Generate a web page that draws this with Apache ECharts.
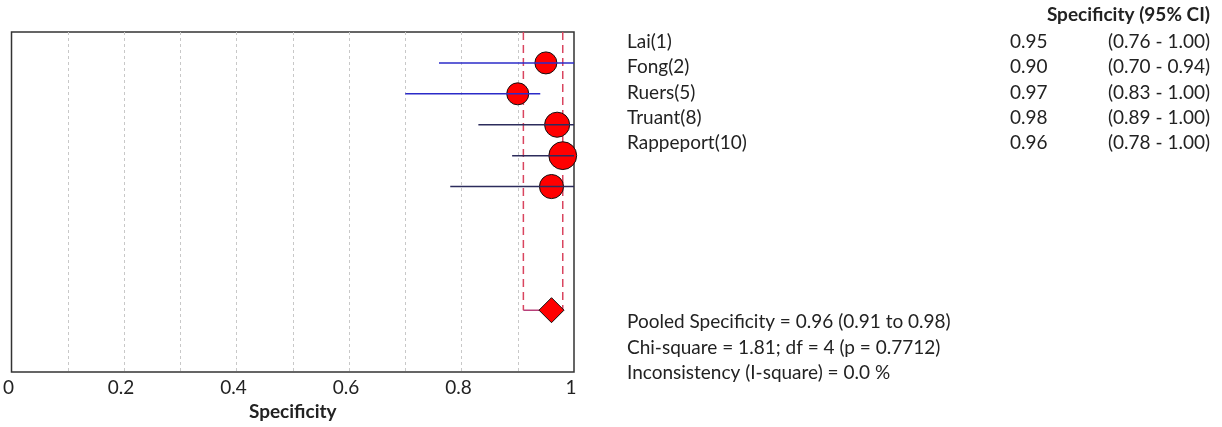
<!DOCTYPE html>
<html>
<head>
<meta charset="utf-8">
<script src="https://cdn.jsdelivr.net/npm/echarts@6/dist/echarts.min.js"></script>
<style>
  html, body { margin: 0; padding: 0; background: #fff; }
  #chart { width: 1222px; height: 427px; }
</style>
</head>
<body>
<div id="chart"></div>
<script>
// Study-level specificity estimates with 95% confidence intervals
const studies = ['Lai(1)', 'Fong(2)', 'Ruers(5)', 'Truant(8)', 'Rappeport(10)'];
const specificity = [0.95, 0.90, 0.97, 0.98, 0.96];
const ciLower = [0.76, 0.70, 0.83, 0.89, 0.78];
const ciUpper = [1.00, 0.94, 1.00, 1.00, 1.00];
// relative study weights (marker area)
const studyWeight = [1.0, 1.0, 1.3, 1.6, 1.2];

// Pooled random-effects estimate
const pooled = 0.96;
const pooledLower = 0.91;
const pooledUpper = 0.98;
const chiSquare = 1.81;
const degFree = 4;
const pValue = 0.7712;
const iSquare = 0.0;

const xTicks = [0, 0.2, 0.4, 0.6, 0.8, 1];

const FONT = 'Lato, "Open Sans", sans-serif';
const rowOf = i => i + 1;       // study rows counted from the top
const pooledRow = 9;
const lineColors = ['#2b2bc8', '#2b2bc8', '#2c2c5c', '#2c2c5c', '#2c2c5c'];

const chart = echarts.init(document.getElementById('chart'), null, { renderer: 'canvas' });

const studyPoints = specificity.map((v, i) => ({
  value: [v, rowOf(i)],
  symbolSize: 22 * Math.sqrt(studyWeight[i])
}));

const ciData = studies.map((s, i) => [ciLower[i], ciUpper[i], rowOf(i), i]);

// Right-hand table and summary statistics
const base = { fontFamily: FONT, fontSize: 19, fill: '#222', verticalAlign: 'middle' };
const txt = (x, y, text, extra) => ({
  type: 'text', x: x, y: y,
  style: Object.assign({}, base, { text: text }, extra || {})
});
const graphics = [];
graphics.push(txt(1210, 15, 'Specificity (95% CI)', { fontWeight: 'bold', align: 'right' }));
studies.forEach((s, i) => {
  const y = 42 + i * 25.2;
  graphics.push(txt(627, y, s));
  graphics.push(txt(1010, y, specificity[i].toFixed(2)));
  graphics.push(txt(1210, y, '(' + ciLower[i].toFixed(2) + ' - ' + ciUpper[i].toFixed(2) + ')', { align: 'right' }));
});
const stats = [
  'Pooled Specificity = ' + pooled.toFixed(2) + ' (' + pooledLower.toFixed(2) + ' to ' + pooledUpper.toFixed(2) + ')',
  'Chi-square = ' + chiSquare.toFixed(2) + '; df = ' + degFree + ' (p = ' + pValue.toFixed(4) + ')',
  'Inconsistency (I-square) = ' + iSquare.toFixed(1) + ' %'
];
stats.forEach((t, i) => graphics.push(txt(627, 322 + i * 25.5, t)));

chart.setOption({
  animation: false,
  backgroundColor: '#fff',
  grid: {
    left: 10, right: 648, top: 32, bottom: 55,
    show: true, borderColor: '#333', borderWidth: 1.5, backgroundColor: 'transparent'
  },
  xAxis: {
    type: 'value', min: 0, max: 1, interval: 0.1,
    name: 'Specificity', nameLocation: 'middle', nameGap: 30,
    nameTextStyle: { fontFamily: FONT, fontSize: 19, fontWeight: 'bold', color: '#222' },
    axisLine: { show: false }, axisTick: { show: false },
    axisLabel: {
      fontFamily: FONT, fontSize: 19, color: '#222', margin: 6, padding: [0, 6, 0, 0],
      formatter: v => {
        const t = xTicks.find(x => Math.abs(x - v) < 1e-6);
        return t === undefined ? '' : String(t);
      }
    },
    splitLine: {
      show: true, showMinLine: false, showMaxLine: false,
      lineStyle: { color: '#c8c8c8', type: [3, 3], width: 1 }
    }
  },
  yAxis: {
    type: 'value', min: 0, max: 11, inverse: true,
    show: false, splitLine: { show: false }
  },
  graphic: graphics,
  series: [
    {
      // pooled CI bounds, dashed guides down to the summary row
      type: 'line', z: 2, symbol: 'none', silent: true,
      data: [[pooledLower, 0], [pooledLower, pooledRow]],
      lineStyle: { color: '#d9455f', type: [8, 5], width: 1.5 }
    },
    {
      type: 'line', z: 2, symbol: 'none', silent: true,
      data: [[pooledUpper, 0], [pooledUpper, pooledRow]],
      lineStyle: { color: '#d9455f', type: [8, 5], width: 1.5 }
    },
    {
      type: 'line', z: 2, symbol: 'none', silent: true,
      data: [[pooledLower, pooledRow], [pooledUpper, pooledRow]],
      lineStyle: { color: '#b8407a', width: 1.5 }
    },
    {
      type: 'scatter', z: 3, symbol: 'circle',
      data: studyPoints,
      itemStyle: { color: '#ff0000', borderColor: '#111', borderWidth: 1, opacity: 1 }
    },
    {
      type: 'custom', z: 4, silent: true,
      data: ciData,
      encode: { x: [0, 1], y: 2 },
      renderItem: (params, api) => {
        const a = api.coord([api.value(0), api.value(2)]);
        const b = api.coord([api.value(1), api.value(2)]);
        return {
          type: 'line',
          shape: { x1: a[0], y1: a[1], x2: b[0], y2: b[1] },
          style: { stroke: lineColors[api.value(3)], lineWidth: 1.5 }
        };
      }
    },
    {
      type: 'scatter', z: 5, symbol: 'diamond', symbolSize: [25, 25],
      data: [[pooled, pooledRow]],
      itemStyle: { color: '#ff0000', borderColor: '#111', borderWidth: 1, opacity: 1 }
    }
  ]
});
</script>
</body>
</html>
